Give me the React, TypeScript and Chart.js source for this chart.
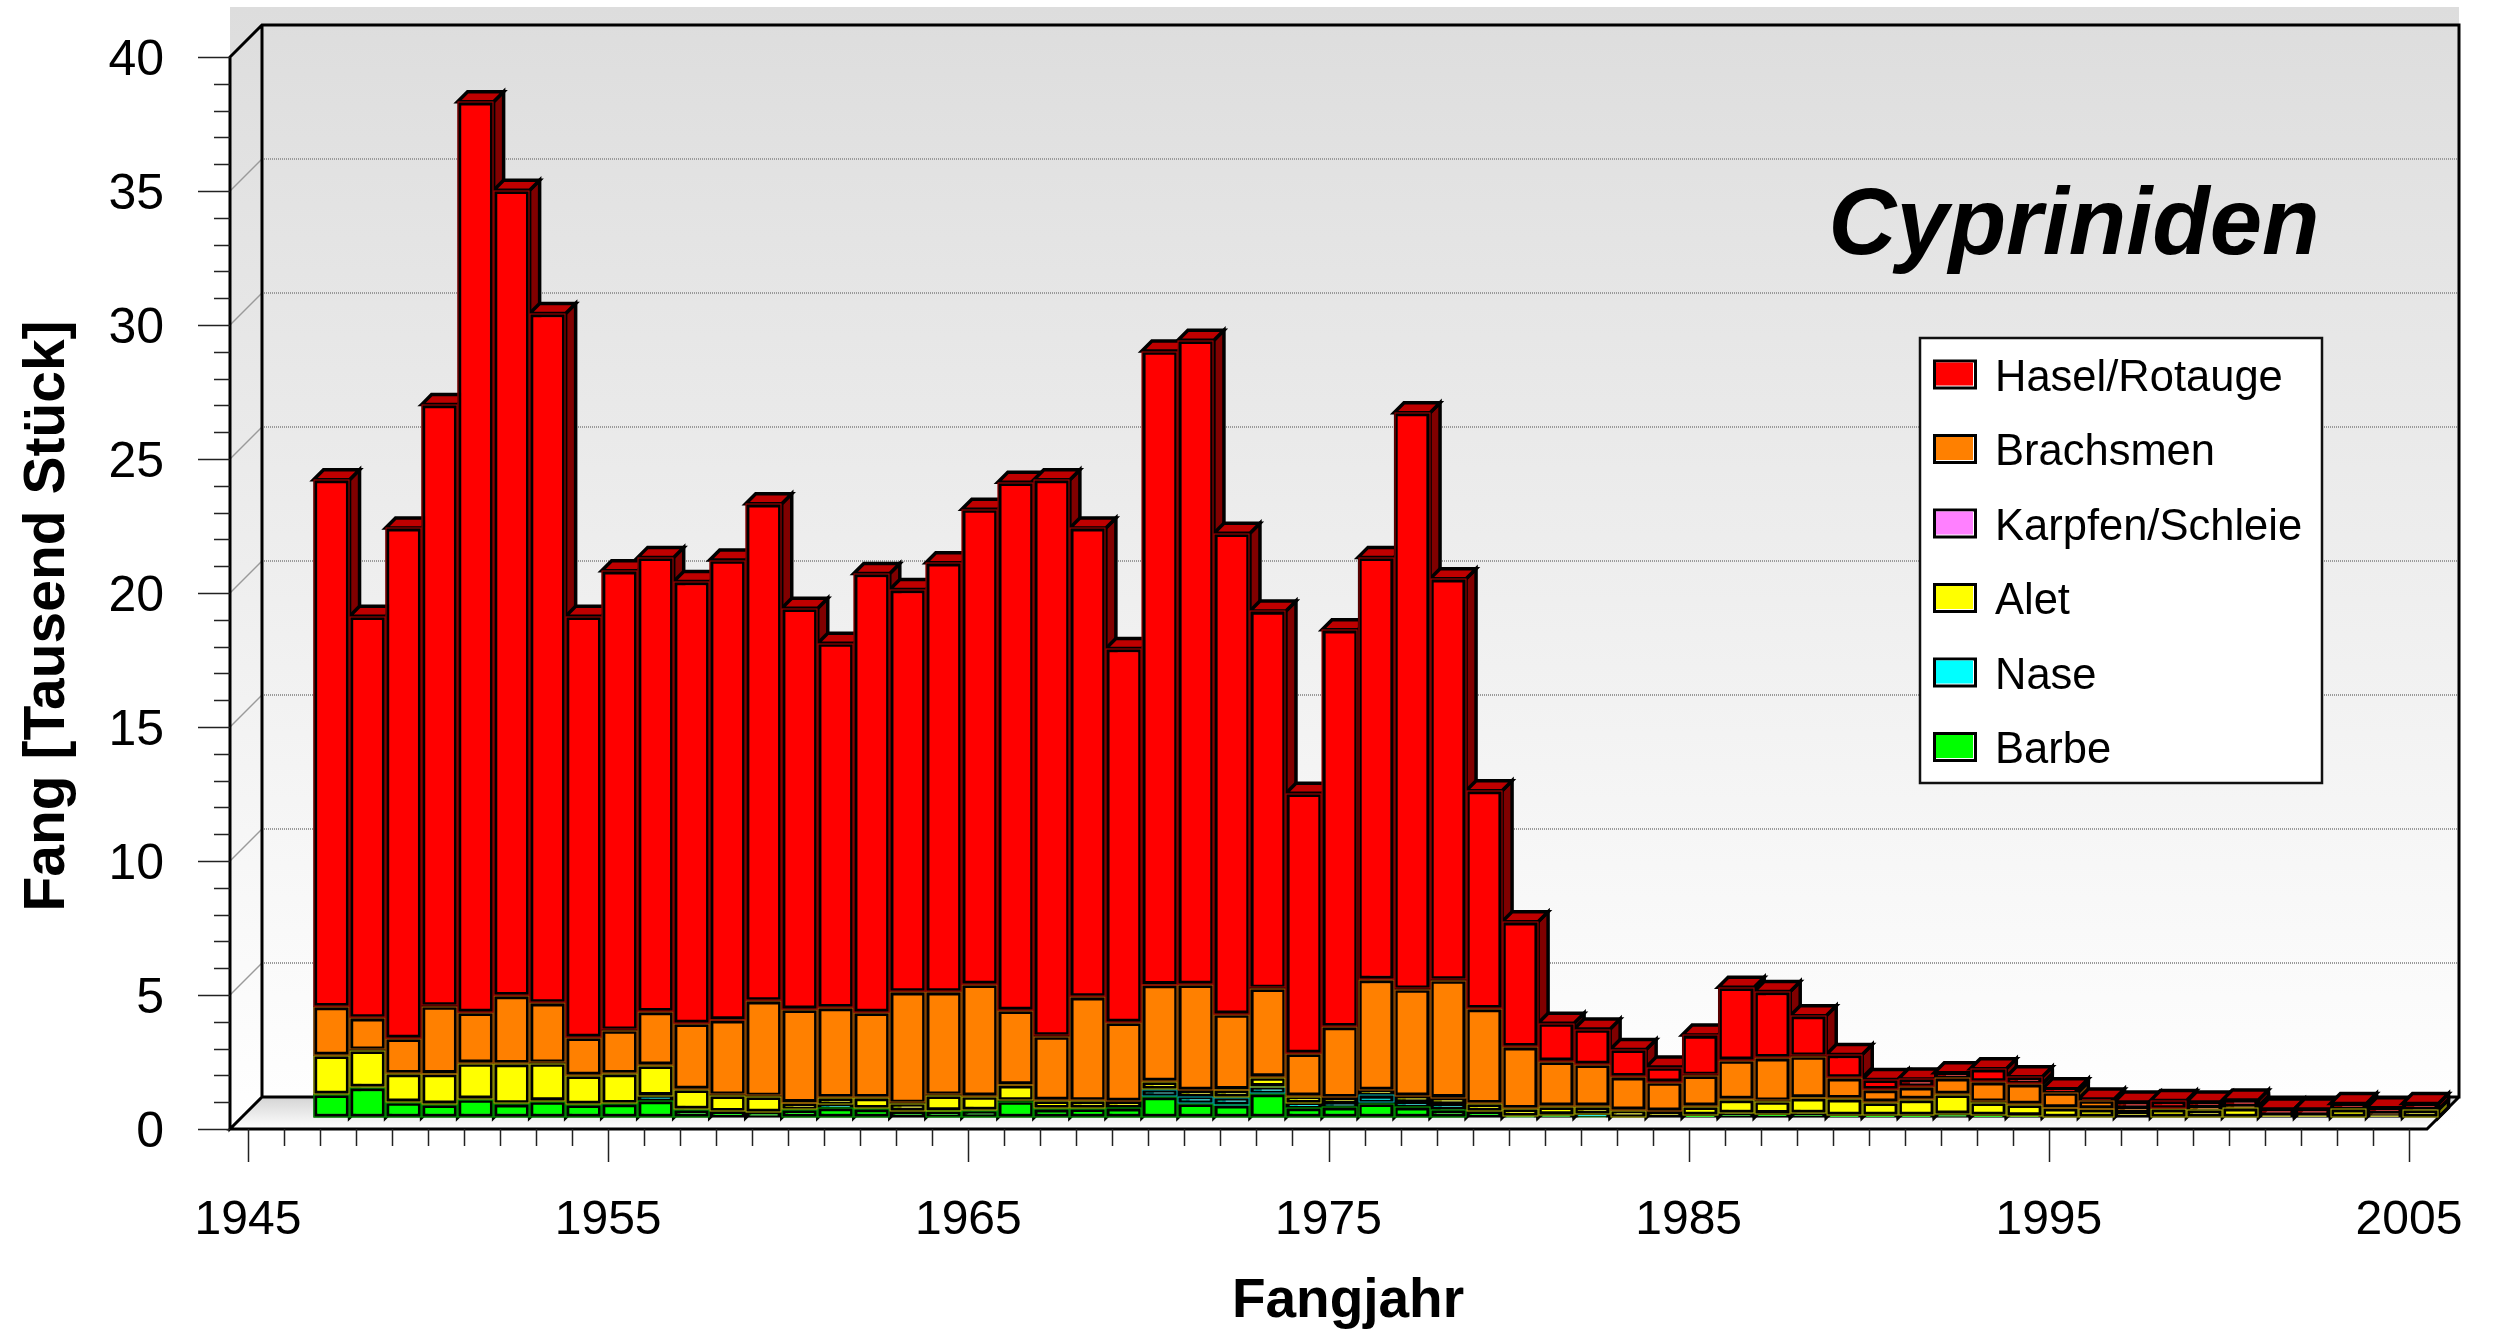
import React, { useEffect, useRef } from "react";
import { Chart, registerables } from "chart.js";

Chart.register(...registerables);

const years = Array.from({ length: 61 }, (_, i) => String(1945 + i));
const labeledYears = ["1945", "1955", "1965", "1975", "1985", "1995", "2005"];
const N: null = null;

const barbe = [N, N, .86, 1.12, .575, .495, .685, .51, .615, .49, .515, .63, .3, .215, .19, .29, .37, .33, .24, .245, .26, .615, .325, .34, .365, .78, .53, .47, .89, .37, .4, .53, .4, .3, .215, .05, .1, .04, 0, 0, .08, .15, .14, .15, .08, .08, .08, .12, .08, .06, 0, 0, 0, 0, 0, 0, 0, 0, 0, 0, 0];
const nase = [N, N, 0, 0, 0, 0, 0, 0, 0, 0, 0, .18, 0, 0, 0, 0, .1, 0, 0, 0, 0, 0, 0, 0, 0, .27, .25, .28, .26, .16, .13, .31, .19, .2, 0, 0, 0, .08, 0, 0, 0, 0, 0, 0, 0, 0, 0, 0, 0, 0, 0, 0, 0, 0, 0, 0, 0, 0, 0, 0, 0];
const alet = [N, N, 1.46, 1.39, 1.065, 1.145, 1.345, 1.5, 1.415, 1.08, 1.125, 1.14, .75, .615, .6, .26, .27, .41, .29, .585, .54, .605, .315, .28, .235, .3, .23, .29, .36, .27, .21, .17, .21, .24, .3, .28, .32, .3, .27, .24, .34, .52, .47, .58, .62, .49, .59, .74, .49, .43, .36, .32, .24, .32, .3, .36, .1, .1, .32, .1, .3];
const karpfen = [N, N, 0, 0, 0, 0, 0, 0, 0, 0, 0, 0, 0, 0, 0, 0, 0, 0, 0, 0, 0, 0, 0, 0, 0, 0, 0, 0, 0, 0, 0, 0, 0, 0, 0, 0, 0, 0, 0, 0, 0, 0, 0, 0, 0, 0, 0, 0, 0, 0, 0, 0, 0, 0, 0, 0, 0, 0, 0, 0, 0];
const brachsmen = [N, N, 1.82, 1.21, 1.31, 2.52, 1.89, 2.54, 2.25, 1.42, 1.62, 2.0, 2.46, 2.81, 3.56, 3.49, 3.36, 3.18, 4.16, 3.86, 4.17, 2.78, 2.4, 3.88, 2.95, 3.61, 3.96, 2.82, 3.31, 1.59, 2.65, 4.14, 3.99, 4.39, 3.55, 2.31, 1.68, 1.56, 1.25, 1.08, 1.15, 1.47, 1.62, 1.56, .78, .47, .47, .62, .76, .77, .59, .33, .12, 0, .09, .06, 0, 0, 0, .06, 0];
const hasel = [N, N, 19.66, 14.98, 19.05, 22.44, 33.98, 30.05, 25.72, 15.71, 17.14, 16.95, 16.49, 17.16, 18.55, 14.96, 13.6, 16.38, 15.01, 16.01, 17.73, 19.7, 20.76, 17.5, 13.95, 23.64, 24.03, 17.94, 14.08, 9.71, 14.81, 15.75, 21.51, 14.97, 8.13, 4.66, 1.42, 1.32, 1.02, .56, 1.51, 2.72, 2.47, 1.51, .87, .38, .3, .19, .49, .26, .12, .04, .22, .31, .19, .23, .22, .22, .2, .2, .22];

const title = "Cypriniden";
const xTitle = "Fangjahr";
const yTitle = "Fang [Tausend Stück]";
const FONT = "'Liberation Sans', Arial, sans-serif";

const series = [
  { label: "Barbe", data: barbe, color: "#00ff00" },
  { label: "Nase", data: nase, color: "#00ffff" },
  { label: "Alet", data: alet, color: "#ffff00" },
  { label: "Karpfen/Schleie", data: karpfen, color: "#ff80ff" },
  { label: "Brachsmen", data: brachsmen, color: "#ff8000" },
  { label: "Hasel/Rotauge", data: hasel, color: "#ff0000" },
];

const WALL = 32; // depth of the floor in px
const PLANE = 11.5; // depth of the bars' front plane
const DEPTH = 10; // depth of the bars

const shade = (hex: string, f: number) => {
  const n = parseInt(hex.slice(1), 16);
  const c = (s: number) => Math.round(((n >> s) & 255) * f);
  return `rgb(${c(16)},${c(8)},${c(0)})`;
};

const scene = {
  id: "scene",
  beforeDraw(chart: any) {
    const { ctx, chartArea: a, scales } = chart;
    const y = scales.y;
    const L = a.left, R = a.right, T = a.top, B = a.bottom;
    ctx.save();
    ctx.fillStyle = "#ffffff";
    ctx.fillRect(0, 0, chart.width, chart.height);
    const g = ctx.createLinearGradient(0, 7, 0, B);
    g.addColorStop(0, "#dddddd");
    g.addColorStop(1, "#ffffff");
    ctx.fillStyle = g;
    ctx.fillRect(L, 7, R + WALL - L, B - 7);
    // floor
    const f = ctx.createLinearGradient(0, B - WALL, 0, B);
    f.addColorStop(0, "#d4d4d4");
    f.addColorStop(1, "#ffffff");
    ctx.fillStyle = f;
    ctx.beginPath();
    ctx.moveTo(L, B);
    ctx.lineTo(L + WALL, B - WALL);
    ctx.lineTo(R + WALL, B - WALL);
    ctx.lineTo(R, B);
    ctx.closePath();
    ctx.fill();
    // grid lines
    for (let v = 5; v < 40; v += 5) {
      const p = y.getPixelForValue(v);
      ctx.strokeStyle = "#9a9a9a";
      ctx.lineWidth = 1.5;
      ctx.beginPath();
      ctx.moveTo(L, p);
      ctx.lineTo(L + WALL, p - WALL);
      ctx.stroke();
      ctx.setLineDash([1, 1]);
      ctx.lineWidth = 2;
      ctx.beginPath();
      ctx.moveTo(L + WALL, p - WALL);
      ctx.lineTo(R + WALL, p - WALL);
      ctx.stroke();
      ctx.setLineDash([]);
    }
    // frame
    ctx.strokeStyle = "#000";
    ctx.lineWidth = 3;
    ctx.lineJoin = "miter";
    ctx.beginPath();
    ctx.moveTo(L, B);
    ctx.lineTo(L, T);
    ctx.lineTo(L + WALL, T - WALL);
    ctx.lineTo(R + WALL, T - WALL);
    ctx.lineTo(R + WALL, B - WALL);
    ctx.lineTo(L + WALL, B - WALL);
    ctx.closePath();
    ctx.moveTo(L + WALL, T - WALL);
    ctx.lineTo(L + WALL, B - WALL);
    ctx.lineTo(L, B);
    ctx.lineTo(R, B);
    ctx.lineTo(R + WALL, B - WALL);
    ctx.stroke();
    ctx.restore();
  },
  beforeDatasetsDraw(chart: any) {
    const { ctx, chartArea: a, scales } = chart;
    ctx.save();
    // tick marks
    ctx.strokeStyle = "#222";
    ctx.lineWidth = 1.5;
    ctx.beginPath();
    scales.x.ticks.forEach((t: any, i: number) => {
      const p = Math.round(scales.x.getPixelForTick(i)) + 0.5;
      ctx.moveTo(p, a.bottom);
      ctx.lineTo(p, a.bottom + (labeledYears.includes(years[i]) ? 33 : 17));
    });
    scales.y.ticks.forEach((t: any) => {
      const p = Math.round(scales.y.getPixelForValue(t.value)) + 0.5;
      ctx.moveTo(a.left, p);
      ctx.lineTo(a.left - (t.value % 5 === 0 ? 32 : 16), p);
    });
    ctx.stroke();
    ctx.restore();

    // 3D faces of the bars, then the bar fronts, all shifted onto the plane inside the box
    ctx.save();
    ctx.translate(PLANE, -PLANE);
    ctx.lineWidth = 3.5;
    ctx.lineJoin = "miter";
    ctx.strokeStyle = "#000";
    const metas = chart.getSortedVisibleDatasetMetas();
    years.forEach((_, i) => {
      let top: any = null;
      metas.forEach((m: any) => {
        const raw = chart.data.datasets[m.index].data[i];
        if (!raw) return;
        const e = m.data[i].getProps(["x", "y", "base", "width"]);
        const r = e.x + e.width / 2;
        ctx.fillStyle = shade(chart.data.datasets[m.index].backgroundColor, 0.5);
        ctx.beginPath();
        ctx.moveTo(r, e.base);
        ctx.lineTo(r + DEPTH, e.base - DEPTH);
        ctx.lineTo(r + DEPTH, e.y - DEPTH);
        ctx.lineTo(r, e.y);
        ctx.closePath();
        ctx.fill();
        ctx.stroke();
        top = { e, color: chart.data.datasets[m.index].backgroundColor };
      });
      if (top) {
        const { e, color } = top;
        const l = e.x - e.width / 2, r = e.x + e.width / 2;
        ctx.fillStyle = shade(color, 0.75);
        ctx.beginPath();
        ctx.moveTo(l, e.y);
        ctx.lineTo(l + DEPTH, e.y - DEPTH);
        ctx.lineTo(r + DEPTH, e.y - DEPTH);
        ctx.lineTo(r, e.y);
        ctx.closePath();
        ctx.fill();
        ctx.stroke();
      }
    });
  },
  afterDatasetsDraw(chart: any) {
    const { ctx } = chart;
    // thin dim coloured edge outside each segment's black outline
    ctx.lineWidth = 1;
    chart.getSortedVisibleDatasetMetas().forEach((m: any) => {
      const ds = chart.data.datasets[m.index];
      ctx.strokeStyle = shade(ds.backgroundColor, 0.7);
      m.data.forEach((el: any, i: number) => {
        if (!ds.data[i]) return;
        const e = el.getProps(["x", "y", "base", "width"]);
        const h = Math.round(e.base - e.y);
        if (h < 7) return;
        const l = Math.round(e.x - e.width / 2) + 0.5;
        const t = Math.round(e.y) + 0.5;
        ctx.strokeRect(l, t, Math.round(e.width) - 1, h - 1);
      });
    });
    ctx.restore();
  },
  afterDraw(chart: any) {
    const { ctx } = chart;
    ctx.save();
    ctx.fillStyle = "#000";
    // titles
    ctx.textAlign = "center";
    ctx.textBaseline = "middle";
    ctx.font = `italic bold 94px ${FONT}`;
    ctx.fillText(title, 2074, 228);
    ctx.font = `bold 55px ${FONT}`;
    ctx.fillText(xTitle, 1348, 1302);
    ctx.save();
    ctx.translate(48, 616);
    ctx.rotate(-Math.PI / 2);
    ctx.font = `bold 57px ${FONT}`;
    ctx.fillText(yTitle, 0, 0);
    ctx.restore();
    // legend
    ctx.fillStyle = "#fff";
    ctx.fillRect(1920, 338, 402, 445);
    ctx.strokeStyle = "#111";
    ctx.lineWidth = 2.5;
    ctx.strokeRect(1920, 338, 402, 445);
    ctx.textAlign = "left";
    ctx.font = `43.5px ${FONT}`;
    [...chart.data.datasets].reverse().forEach((d: any, i: number) => {
      const yy = 374.5 + i * 74.5;
      ctx.fillStyle = "#000";
      ctx.fillRect(1933, yy - 15, 44, 30);
      ctx.fillStyle = "#fff";
      ctx.fillRect(1936, yy - 12, 38, 24);
      ctx.fillStyle = d.backgroundColor;
      ctx.fillRect(1936, yy - 12, 37, 23);
      ctx.fillStyle = "#000";
      ctx.fillText(d.label, 1995, yy + 4);
    });
    ctx.restore();
  },
};

export default function App() {
  const ref = useRef<HTMLCanvasElement>(null);
  useEffect(() => {
    const chart = new Chart(ref.current!, {
      type: "bar",
      data: {
        labels: years,
        datasets: series.map((s) => ({
          label: s.label,
          data: s.data,
          backgroundColor: s.color,
          borderColor: "#000",
          borderWidth: 4,
          borderSkipped: false,
          barPercentage: 1,
          categoryPercentage: 1,
          clip: false,
        })),
      } as any,
      options: {
        animation: false,
        responsive: false,
        layout: { padding: { top: 57, right: 68, left: 0, bottom: 0 } },
        plugins: { legend: { display: false }, title: { display: false }, tooltip: { enabled: false } },
        scales: {
          x: {
            stacked: true,
            offset: true,
            afterFit: (s: any) => { s.height = 206; s.paddingLeft = 0; s.paddingRight = 0; },
            grid: { display: false, drawTicks: false },
            border: { display: false },
            ticks: {
              autoSkip: false,
              maxRotation: 0,
              minRotation: 0,
              padding: 63,
              color: "#000",
              font: { family: FONT, size: 48 },
              callback: (_v: any, i: number) => (labeledYears.includes(years[i]) ? years[i] : ""),
            },
          },
          y: {
            stacked: true,
            min: 0,
            max: 40,
            afterFit: (s: any) => { s.width = 230; s.paddingTop = 0; s.paddingBottom = 0; },
            grid: { display: false, drawTicks: false },
            border: { display: false },
            ticks: {
              stepSize: 1,
              autoSkip: false,
              padding: 66,
              labelOffset: 4,
              color: "#000",
              font: { family: FONT, size: 50 },
              callback: (v: any) => (v % 5 === 0 ? String(v) : ""),
            },
          },
        },
      },
      plugins: [scene],
    } as any);
    return () => chart.destroy();
  }, []);
  return (
    <div style={{ position: "fixed", left: 0, top: 0 }}>
      <canvas ref={ref} width={2495} height={1335} style={{ display: "block" }} />
    </div>
  );
}
